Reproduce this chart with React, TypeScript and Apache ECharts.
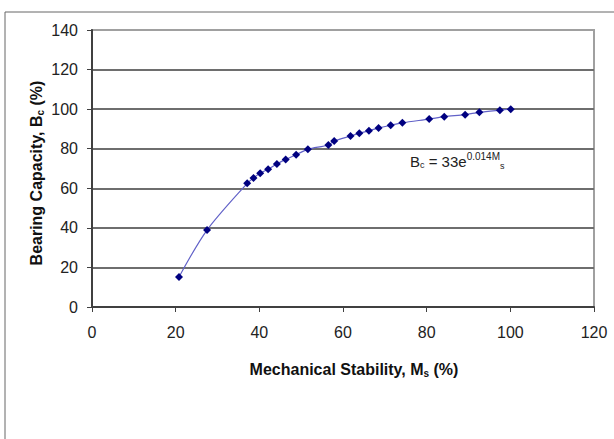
import React, { useEffect, useRef } from "react";
import * as echarts from "echarts";

const stability: number[] = [20.8, 27.5, 37.1, 38.6, 40.2, 42.1, 44.2, 46.3, 48.8, 51.6, 56.5, 57.9, 61.8, 63.9, 66.2, 68.5, 71.4, 74.2, 80.6, 84.2, 89.2, 92.6, 97.5, 100.1];
const capacity: number[] = [15.2, 38.9, 62.5, 65.2, 67.6, 69.6, 72.3, 74.6, 77.0, 79.7, 81.9, 83.9, 86.4, 87.8, 89.1, 90.5, 91.8, 93.1, 95.0, 96.2, 97.2, 98.4, 99.5, 100.0];
const xTicks = { min: 0, max: 120, interval: 20 };
const yTicks = { min: 0, max: 140, interval: 20 };

const NARROW = "'Liberation Sans Narrow', 'Arial Narrow', 'Liberation Sans', Arial, sans-serif";
const SANS = "'Liberation Sans', Arial, sans-serif";

export default function App() {
  const ref = useRef<HTMLDivElement>(null);
  useEffect(() => {
    if (!ref.current) return;
    const chart = echarts.init(ref.current, undefined, { renderer: "svg" });
    const data = stability.map((x, i) => [x, capacity[i]]);
    chart.setOption({
      animation: false,
      backgroundColor: "#ffffff",
      grid: { left: 92, top: 30, right: 20, bottom: 132, show: true, borderColor: "#a0a0a0", borderWidth: 2 },
      xAxis: {
        type: "value",
        min: xTicks.min,
        max: xTicks.max,
        interval: xTicks.interval,
        axisLine: { show: true, onZero: false, lineStyle: { color: "#404040", width: 2 } },
        axisTick: { show: true, inside: false, length: 5, lineStyle: { color: "#404040", width: 1 } },
        axisLabel: { color: "#222", fontFamily: NARROW, fontSize: 16, margin: 17 },
        splitLine: { show: false },
      },
      yAxis: {
        type: "value",
        min: yTicks.min,
        max: yTicks.max,
        interval: yTicks.interval,
        axisLine: { show: true, onZero: false, lineStyle: { color: "#404040", width: 2 } },
        axisTick: { show: true, inside: false, length: 5, lineStyle: { color: "#404040", width: 1 } },
        axisLabel: { color: "#222", fontFamily: NARROW, fontSize: 16, margin: 14 },
        splitLine: { show: true, showMinLine: false, showMaxLine: false, lineStyle: { color: "#6e6e6e", width: 2 } },
      },
      series: [
        {
          type: "line",
          data,
          smooth: 0.3,
          symbol: "diamond",
          symbolSize: 8,
          itemStyle: { color: "#000080" },
          lineStyle: { color: "#6262c8", width: 1.2 },
        },
      ],
      graphic: [
        { type: "line", shape: { x1: 5, y1: 12, x2: 614, y2: 12 }, style: { stroke: "#666", lineWidth: 1 } },
        { type: "line", shape: { x1: 5, y1: 12, x2: 5, y2: 439 }, style: { stroke: "#666", lineWidth: 1 } },
        {
          type: "text",
          x: 354,
          y: 369,
          style: {
            text: "{b|Mechanical Stability, M}{s|s}{b| (%)}",
            align: "center",
            verticalAlign: "middle",
            rich: {
              b: { fontFamily: SANS, fontWeight: "bold", fontSize: 16, fill: "#111" },
              s: { fontFamily: SANS, fontWeight: "bold", fontSize: 10, fill: "#111", padding: [8, 0, 0, 0] },
            },
          },
        },
        {
          type: "text",
          x: 36,
          y: 173,
          rotation: Math.PI / 2,
          style: {
            text: "{b|Bearing Capacity, B}{s|c}{b| (%)}",
            align: "center",
            verticalAlign: "middle",
            rich: {
              b: { fontFamily: SANS, fontWeight: "bold", fontSize: 16, fill: "#111" },
              s: { fontFamily: SANS, fontWeight: "bold", fontSize: 10, fill: "#111", padding: [8, 0, 0, 0] },
            },
          },
        },
        {
          type: "text",
          x: 410,
          y: 161,
          style: {
            text: "{n|B}{s|c}{n| = 33e}{p|0.014M}{q|s}",
            align: "left",
            verticalAlign: "middle",
            rich: {
              n: { fontFamily: NARROW, fontSize: 15, fill: "#222" },
              s: { fontFamily: NARROW, fontSize: 9, fill: "#222", padding: [8, 0, 0, 0] },
              p: { fontFamily: NARROW, fontSize: 10, fill: "#222", padding: [0, 0, 10, 0] },
              q: { fontFamily: NARROW, fontSize: 9, fill: "#222", padding: [10, 0, 0, 0] },
            },
          },
        },
      ],
    });
    return () => chart.dispose();
  }, []);
  return <div ref={ref} style={{ position: "fixed", left: 0, top: 0, width: 614, height: 439 }} />;
}
